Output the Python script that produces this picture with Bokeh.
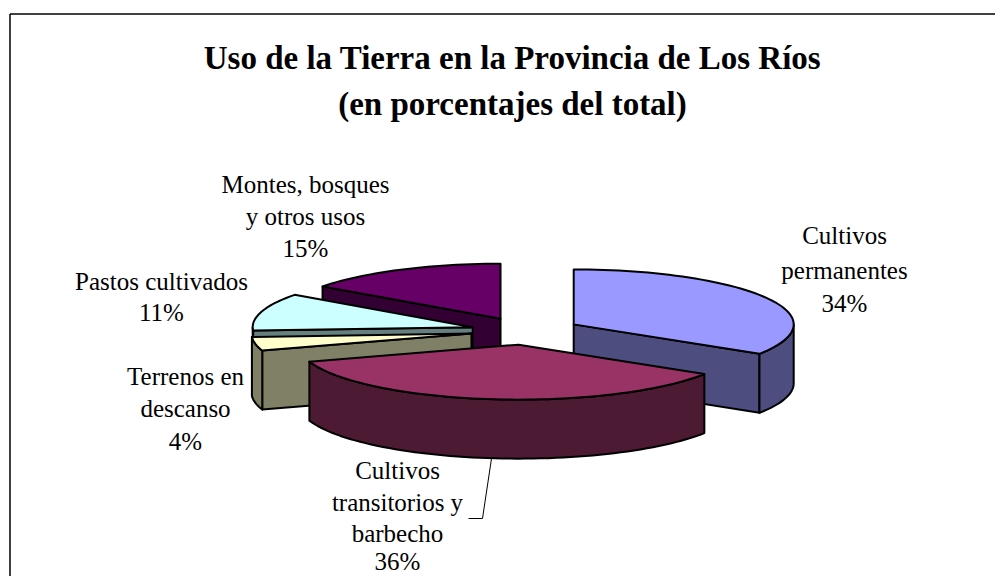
import math
from bokeh.plotting import figure
from bokeh.models import Range1d
from bokeh.core.properties import value
from bokeh.embed import file_html
from bokeh.resources import INLINE

# ---- data
categories = ["Cultivos permanentes", "Cultivos transitorios y barbecho",
              "Terrenos en descanso", "Pastos cultivados",
              "Montes, bosques y otros usos"]
percent = [34, 36, 4, 11, 15]
top_colors = ["#9999FF", "#993366", "#FFFFCC", "#CCFFFF", "#660066"]
side_colors = ["#4D4D80", "#4D1A33", "#808066", "#668080", "#330033"]
draw_order = [4, 3, 2, 0, 1]
title_lines = ["Uso de la Tierra en la Provincia de Los Ríos", "(en porcentajes del total)"]
label_lines = [
    (["Cultivos", "permanentes", "34%"], 844, [235, 270, 303]),
    (["Cultivos", "transitorios y", "barbecho", "36%"], 397, [470, 502, 533, 561]),
    (["Terrenos en", "descanso", "4%"], 185, [376, 408, 441]),
    (["Pastos cultivados", "11%"], 161, [281, 312]),
    (["Montes, bosques", "y otros usos", "15%"], 305, [184, 216, 248]),
]

# ---- pie layout in picture pixels (y grows downward)
W, H = 995, 576
CX, CY, RX, RY, DEPTH, EXPLODE = 525, 330.5, 220, 55, 59, 0.25
SERIF = value("Liberation Serif")
LW = 2

p = figure(width=W, height=H, output_backend="svg", toolbar_location=None,
           x_range=Range1d(0, W), y_range=Range1d(H, 0),
           min_border=0, outline_line_color=None, background_fill_color="white",
           border_fill_color="white")
p.axis.visible = False
p.grid.visible = False

# chart frame
p.line([9.5, 9.5], [H, 13.5], line_color="black", line_width=1.5)
p.line([9.5, W], [13.5, 13.5], line_color="black", line_width=1.5)

def pt(tip, deg, dz=0.0):
    a = math.radians(deg)
    return tip[0] + RX * math.sin(a), tip[1] - RY * math.cos(a) + dz

def arc(tip, a0, a1, dz=0.0):
    n = max(2, int(abs(a1 - a0) / 2) + 2)
    return [pt(tip, a0 + (a1 - a0) * i / (n - 1), dz) for i in range(n)]

def poly(points, color):
    p.patch([q[0] for q in points], [q[1] for q in points], fill_color=color,
            line_color="black", line_width=LW, line_join="round")

angles = []
total = 0.0
for v in percent:
    angles.append((total / sum(percent) * 360, (total + v) / sum(percent) * 360))
    total += v

for i in draw_order:
    a0, a1 = angles[i]
    mid = math.radians((a0 + a1) / 2)
    tip = (CX + EXPLODE * RX * math.sin(mid), CY - EXPLODE * RY * math.cos(mid))
    low = (tip[0], tip[1] + DEPTH)
    eps = 1e-6
    if math.sin(math.radians(a0)) < -eps:
        e = pt(tip, a0)
        poly([tip, e, (e[0], e[1] + DEPTH), low], side_colors[i])
    if math.sin(math.radians(a1)) > eps:
        e = pt(tip, a1)
        poly([tip, e, (e[0], e[1] + DEPTH), low], side_colors[i])
    w0, w1 = max(a0, 90), min(a1, 270)
    if w1 > w0:
        poly(arc(tip, w0, w1) + arc(tip, w1, w0, DEPTH), side_colors[i])
    poly([tip] + arc(tip, a0, a1), top_colors[i])

# leader line of the 36% label
p.line([491, 482, 468], [458, 518, 518], line_color="black", line_width=1)

for line, y in zip(title_lines, [57, 103]):
    p.text([512], [y], text=[line], text_font=SERIF, text_font_style="bold",
           text_font_size="33px", text_align="center", text_baseline="middle",
           text_color="black")
for lines, x, ys in label_lines:
    for line, y in zip(lines, ys):
        p.text([x], [y], text=[line], text_font=SERIF, text_font_size="25px",
               text_align="center", text_baseline="middle", text_color="black")

open("out.html", "w").write(file_html(p, INLINE))
